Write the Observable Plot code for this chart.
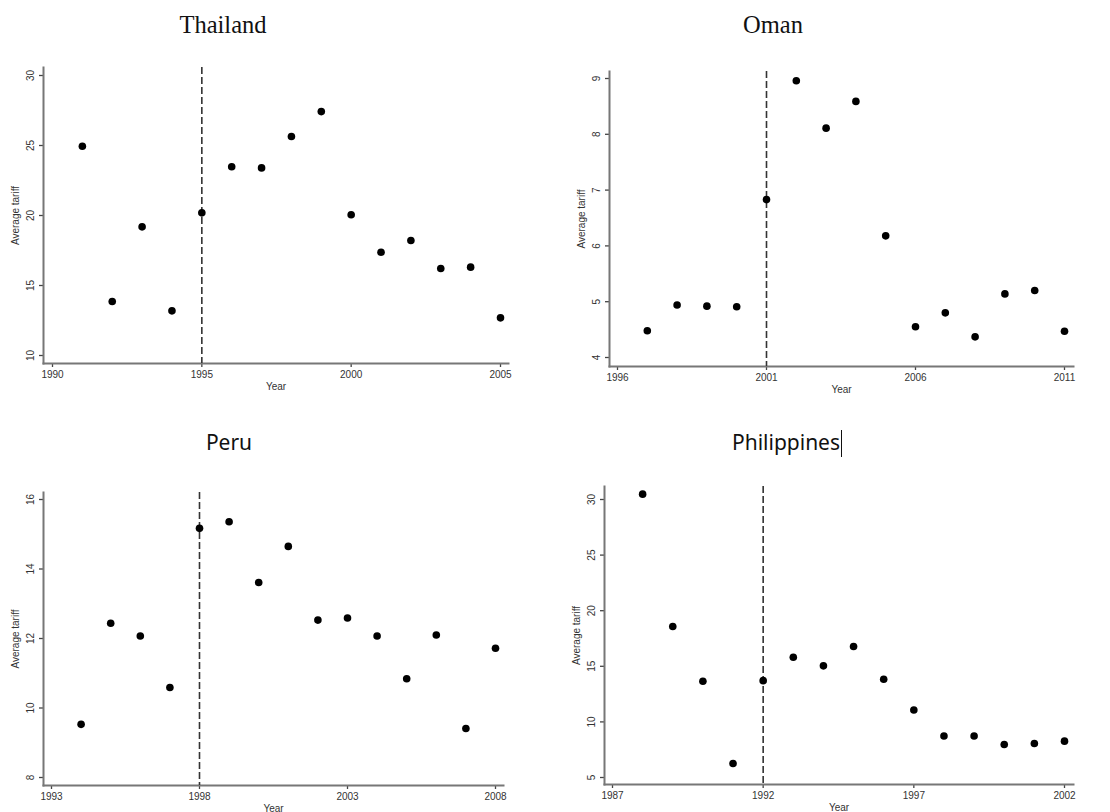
<!DOCTYPE html>
<html>
<head>
<meta charset="utf-8">
<script src="https://cdn.jsdelivr.net/npm/d3@7"></script>
<script src="https://cdn.jsdelivr.net/npm/@observablehq/plot@0.6"></script>
<style>
  html, body { margin: 0; padding: 0; background: #fff; }
  #page { position: relative; width: 1110px; height: 812px; overflow: hidden; background: #fff; }
  .panel { position: absolute; }
  .title { position: absolute; text-align: center; color: #111; white-space: nowrap; }
  .serif { font-family: "Liberation Serif", "DejaVu Serif", serif; font-size: 24.5px; }
  .sans { font-family: "Noto Sans", "Open Sans", sans-serif; font-size: 21px; }
  .cursor { display: inline-block; width: 0; height: 27px; border-left: 1.2px solid #111; vertical-align: -7px; margin-left: 1px; }
</style>
</head>
<body>
<div id="page"></div>
<script>
// ---------------- data ----------------
const thailandYears = [1991,1992,1993,1994,1995,1996,1997,1998,1999,2000,2001,2002,2003,2004,2005];
const thailandTariff = [24.95,13.86,19.19,13.19,20.19,23.48,23.40,25.64,27.42,20.05,17.38,18.21,16.21,16.31,12.69];
const thailandXTicks = [1990,1995,2000,2005];
const thailandYTicks = [10,15,20,25,30];
const thailandReform = 1995;

const omanYears = [1997,1998,1999,2000,2001,2002,2003,2004,2005,2006,2007,2008,2009,2010,2011];
const omanTariff = [4.48,4.94,4.92,4.91,6.83,8.96,8.11,8.59,6.18,4.55,4.80,4.37,5.14,5.20,4.47];
const omanXTicks = [1996,2001,2006,2011];
const omanYTicks = [4,5,6,7,8,9];
const omanReform = 2001;

const peruYears = [1994,1995,1996,1997,1998,1999,2000,2001,2002,2003,2004,2005,2006,2007,2008];
const peruTariff = [9.53,12.44,12.07,10.59,15.17,15.36,13.61,14.65,12.53,12.59,12.07,10.84,12.10,9.41,11.72];
const peruXTicks = [1993,1998,2003,2008];
const peruYTicks = [8,10,12,14,16];
const peruReform = 1998;

const philippinesYears = [1988,1989,1990,1991,1992,1993,1994,1995,1996,1997,1998,1999,2000,2001,2002];
const philippinesTariff = [30.48,18.58,13.65,6.26,13.71,15.82,15.04,16.78,13.83,11.07,8.73,8.73,7.97,8.06,8.27];
const philippinesXTicks = [1987,1992,1997,2002];
const philippinesYTicks = [5,10,15,20,25,30];
const philippinesReform = 1992;

const titles = ["Thailand", "Oman", "Peru", "Philippines"];
const xLabel = "Year";
const yLabel = "Average tariff";

// ---------------- layout ----------------
const page = document.getElementById("page");

function panel(cfg) {
  const rows = cfg.years.map((y, i) => ({year: y, tariff: cfg.tariff[i]}));
  const xd = [cfg.xTicks[0], cfg.xTicks[cfg.xTicks.length - 1]];
  const yd = [cfg.yTicks[0], cfg.yTicks[cfg.yTicks.length - 1]];
  const chart = Plot.plot({
    width: cfg.width,
    height: cfg.height,
    marginLeft: cfg.m[0], marginRight: cfg.m[1], marginTop: cfg.m[2], marginBottom: cfg.m[3],
    style: {fontFamily: "'Liberation Sans', Arial, sans-serif", fontSize: "10px", color: "#333", background: "#fff"},
    x: {domain: xd, insetLeft: cfg.ins[0], insetRight: cfg.ins[1]},
    y: {domain: yd, insetTop: cfg.ins[2], insetBottom: cfg.ins[3]},
    marks: [
      Plot.axisX({ticks: cfg.xTicks, tickFormat: d => String(d), tickSize: 4, tickPadding: 3,
        stroke: "#444", strokeWidth: 1.3, label: xLabel, labelAnchor: "center", labelArrow: "none", labelOffset: 26}),
      Plot.axisY({ticks: cfg.yTicks, tickFormat: d => String(d), tickSize: 4, tickPadding: 6, tickRotate: -90,
        stroke: "#444", strokeWidth: 1.3, label: yLabel, labelAnchor: "center", labelArrow: "none", labelOffset: 32}),
      Plot.frame({anchor: "left", stroke: "#777", strokeWidth: 2}),
      Plot.frame({anchor: "bottom", stroke: "#777", strokeWidth: 2}),
      Plot.ruleX([cfg.reform], {stroke: "#333", strokeWidth: 1.6, strokeDasharray: "7,3"}),
      Plot.dot(rows, {x: "year", y: "tariff", r: 3.8, fill: "#000", stroke: "none"})
    ]
  });
  const div = document.createElement("div");
  div.className = "panel";
  div.style.left = cfg.left + "px";
  div.style.top = cfg.top + "px";
  div.appendChild(chart);
  page.appendChild(div);

  const t = document.createElement("div");
  t.className = "title " + cfg.font;
  t.style.left = (cfg.titleX - 150) + "px";
  t.style.width = "300px";
  t.style.top = cfg.titleY + "px";
  t.textContent = cfg.title;
  if (cfg.cursor) {
    const c = document.createElement("span");
    c.className = "cursor";
    t.appendChild(c);
  }
  page.appendChild(t);
}

panel({title: titles[0], font: "serif", titleX: 223, titleY: 11,
  years: thailandYears, tariff: thailandTariff, xTicks: thailandXTicks, yTicks: thailandYTicks, reform: thailandReform,
  left: 0, top: 60, width: 540, height: 340, m: [43, 32, 7, 37], ins: [9, 8, 8, 8]});

panel({title: titles[1], font: "serif", titleX: 773, titleY: 11,
  years: omanYears, tariff: omanTariff, xTicks: omanXTicks, yTicks: omanYTicks, reform: omanReform,
  left: 555, top: 60, width: 555, height: 340, m: [54, 37, 11, 34], ins: [8, 9, 7, 9]});

panel({title: titles[2], font: "sans", titleX: 229, titleY: 428,
  years: peruYears, tariff: peruTariff, xTicks: peruXTicks, yTicks: peruYTicks, reform: peruReform,
  left: 0, top: 480, width: 540, height: 332, m: [43, 37, 12, 27], ins: [8, 8, 7, 8]});

panel({title: titles[3], font: "sans", titleX: 787, titleY: 428, cursor: true,
  years: philippinesYears, tariff: philippinesTariff, xTicks: philippinesXTicks, yTicks: philippinesYTicks, reform: philippinesReform,
  left: 555, top: 480, width: 555, height: 332, m: [49, 37, 6, 28], ins: [8, 9, 13, 7]});
</script>
</body>
</html>
